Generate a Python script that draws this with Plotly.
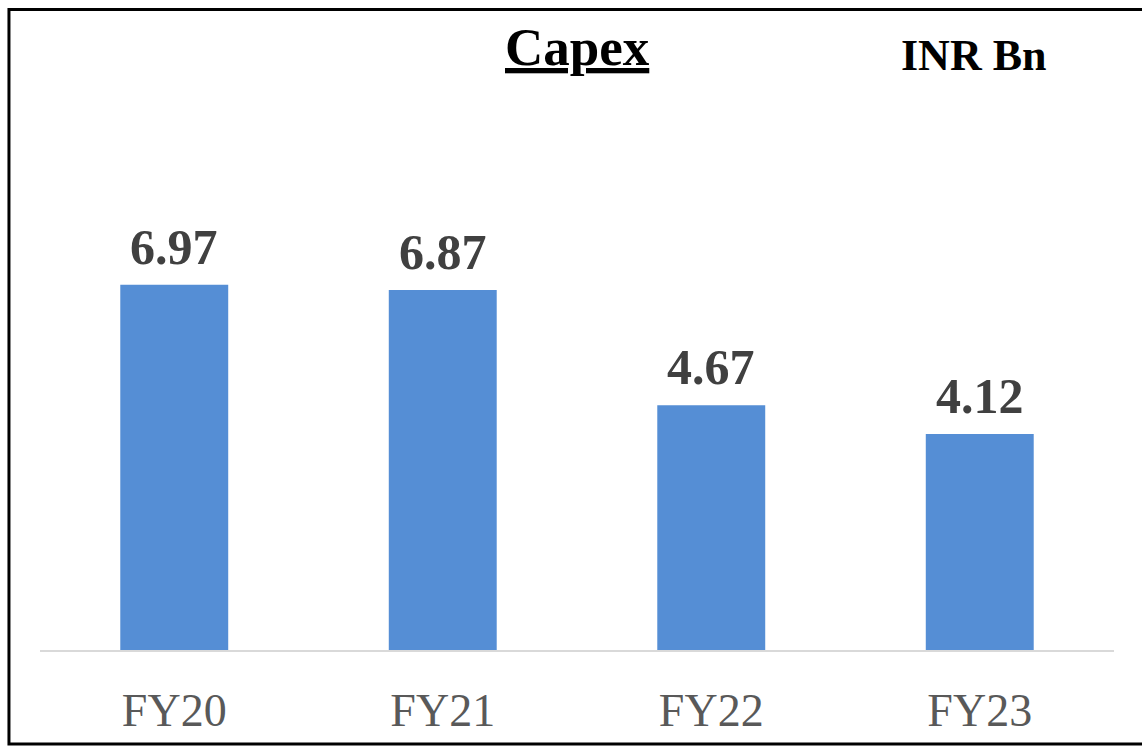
import plotly.graph_objects as go

categories = ["FY20", "FY21", "FY22", "FY23"]
capex = [6.97, 6.87, 4.67, 4.12]
title_text = "Capex"
unit_text = "INR Bn"

FONT = "Liberation Serif"

fig = go.Figure()
fig.add_trace(go.Bar(
    x=categories, y=capex,
    marker=dict(color="#558ED5", line=dict(width=0)),
    width=0.402,
    hoverinfo="skip",
))

for c, v in zip(categories, capex):
    fig.add_annotation(
        x=c, y=v, xref="x", yref="y",
        text=f"<b>{v:.2f}</b>", showarrow=False,
        yanchor="bottom", yshift=8,
        font=dict(family=FONT, size=50, color="#404040"),
    )

fig.add_annotation(
    x=1.5, y=1.151, xref="x", yref="paper",
    text=f"<b><u>{title_text}</u></b>", showarrow=False,
    yanchor="middle", xanchor="center",
    font=dict(family=FONT, size=53, color="#000000"),
)
fig.add_annotation(
    x=2.98, y=1.134, xref="x", yref="paper",
    text=f"<b>{unit_text}</b>", showarrow=False,
    yanchor="middle", xanchor="center",
    font=dict(family=FONT, size=44, color="#000000"),
)

fig.add_shape(
    type="rect", xref="paper", yref="paper",
    x0=-0.0289, x1=1.08, y0=-0.1794, y1=1.2223,
    line=dict(color="#000000", width=3), fillcolor="rgba(0,0,0,0)",
    layer="above",
)

fig.update_layout(
    width=1142, height=746,
    margin=dict(l=40, r=28, t=126, b=96, autoexpand=False),
    paper_bgcolor="white", plot_bgcolor="white",
    showlegend=False,
    xaxis=dict(
        type="category", range=[-0.5, 3.5], automargin=False,
        showline=True, linecolor="#d9d9d9", linewidth=1.5,
        ticks="", showgrid=False, zeroline=False,
        tickfont=dict(family=FONT, size=46, color="#595959"),
        ticklabelstandoff=19,
    ),
    yaxis=dict(
        range=[0, 10], visible=False, showgrid=False, zeroline=False,
        automargin=False,
    ),
)

fig.write_html(
    "out.html",
    config={"displayModeBar": False},
    post_script="document.body.style.margin='0';document.body.style.overflow='hidden';",
)
